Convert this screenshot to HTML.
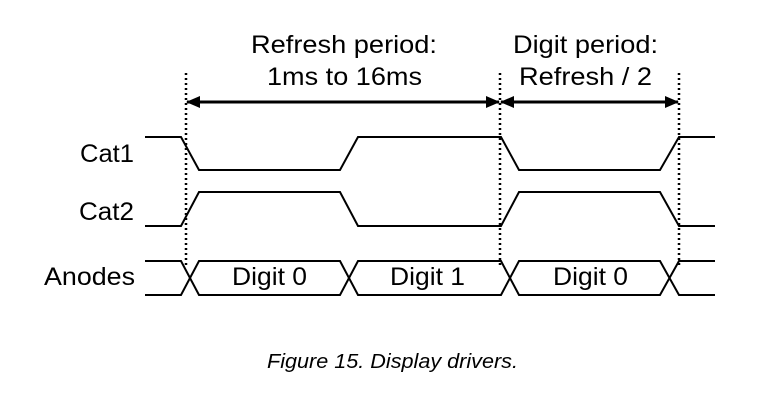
<!DOCTYPE html>
<html><head><style>
html,body{margin:0;padding:0;background:#fff;}
svg{display:block;}
text{font-family:"Liberation Sans",Arial,sans-serif;fill:#000;}
</style></head><body>
<svg width="778" height="407" viewBox="0 0 778 407">
<defs>
<marker id="ah" markerWidth="14" markerHeight="12" refX="13" refY="6" orient="auto-start-reverse" markerUnits="userSpaceOnUse">
<path d="M0,0 L14,6 L0,12 Z" fill="#000"/>
</marker>
</defs>
<g font-size="25">
<text x="251" y="53" textLength="186" lengthAdjust="spacingAndGlyphs">Refresh period:</text>
<text x="267" y="85" textLength="155" lengthAdjust="spacingAndGlyphs">1ms to 16ms</text>
<text x="513" y="53" textLength="145" lengthAdjust="spacingAndGlyphs">Digit period:</text>
<text x="519" y="85" textLength="133" lengthAdjust="spacingAndGlyphs">Refresh / 2</text>
</g>
<g font-size="25">
<text x="80" y="162" textLength="54" lengthAdjust="spacingAndGlyphs">Cat1</text>
<text x="79" y="220" textLength="55" lengthAdjust="spacingAndGlyphs">Cat2</text>
<text x="44" y="285" textLength="91" lengthAdjust="spacingAndGlyphs">Anodes</text>
</g>
<g stroke="#000" stroke-width="2.5" stroke-dasharray="2 3">
<line x1="186" y1="73" x2="186" y2="268"/>
<line x1="500" y1="73" x2="500" y2="268"/>
<line x1="679" y1="73" x2="679" y2="268"/>
</g>
<g stroke="#000" stroke-width="3" fill="none">
<line x1="187" y1="102" x2="499" y2="102" marker-start="url(#ah)" marker-end="url(#ah)"/>
<line x1="501" y1="102" x2="678" y2="102" marker-start="url(#ah)" marker-end="url(#ah)"/>
</g>
<g stroke="#000" stroke-width="2" fill="none">
<polyline points="145,137 181,137 199,170 340,170 358,137 501,137 519,170 660,170 679,137 715,137"/>
<polyline points="145,226 181,226 199,192 340,192 358,226 501,226 519,192 660,192 679,226 715,226"/>
<polyline points="145,261 181,261 199,295 340,295 358,261 501,261 519,295 660,295 679,261 715,261"/>
<polyline points="145,295 181,295 199,261 340,261 358,295 501,295 519,261 660,261 679,295 715,295"/>
</g>
<g font-size="25">
<text x="232" y="285" textLength="75" lengthAdjust="spacingAndGlyphs">Digit 0</text>
<text x="390" y="285" textLength="75" lengthAdjust="spacingAndGlyphs">Digit 1</text>
<text x="553" y="285" textLength="75" lengthAdjust="spacingAndGlyphs">Digit 0</text>
</g>
<text x="267" y="368" font-size="20" font-style="italic" fill="#222" textLength="251" lengthAdjust="spacingAndGlyphs">Figure 15. Display drivers.</text>
</svg>
</body></html>
